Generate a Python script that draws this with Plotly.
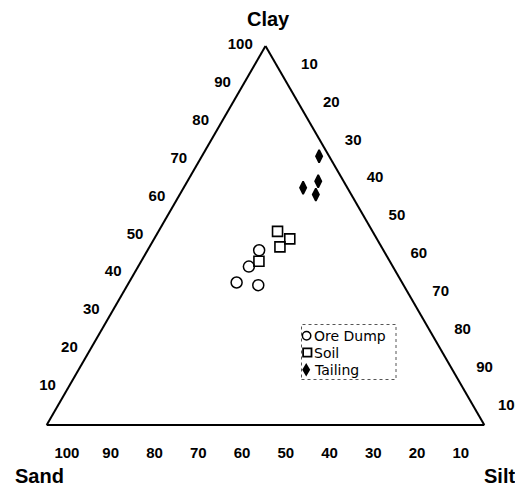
import plotly.graph_objects as go

# ---- data (percent) ----
series_names = ["Ore Dump", "Soil", "Tailing"]

ore_clay = [46.1, 41.8, 37.6, 36.9]
ore_sand = [28.4, 32.9, 37.8, 33.2]
ore_silt = [25.5, 25.3, 24.6, 29.9]

soil_clay = [51.1, 49.1, 47.0, 43.2]
soil_sand = [21.7, 19.9, 23.2, 29.9]
soil_silt = [27.2, 31.0, 29.8, 26.9]

tail_clay = [70.9, 62.6, 64.3, 60.8]
tail_sand = [2.3, 10.1, 5.8, 8.1]
tail_silt = [26.8, 27.3, 29.9, 31.1]

tick_vals = [10, 20, 30, 40, 50, 60, 70, 80, 90, 100]
tick_text = [str(v) for v in tick_vals]

# page body has an 8px margin; the figure is sized to fit the window
OFF = 8
W, H = 515, 480
L, R, T, B = 38, 38, 38, 63
PW, PH = W - L - R, H - T - B


def px2paper(x, y):
    fx, fy = x - OFF, y - OFF
    return (fx - L) / PW, (H - B - fy) / PH


fig = go.Figure()

styles = [
    dict(symbol="circle-open", size=11, color="black", line=dict(width=1.5, color="black")),
    dict(symbol="square-open", size=10, color="black", line=dict(width=1.6, color="black")),
    dict(symbol="diamond-tall", size=9, color="black", line=dict(width=1.7, color="black")),
]
data = [
    (ore_clay, ore_sand, ore_silt),
    (soil_clay, soil_sand, soil_silt),
    (tail_clay, tail_sand, tail_silt),
]
for name, (a, b, c), st in zip(series_names, data, styles):
    fig.add_trace(go.Scatterternary(
        a=a, b=b, c=c, mode="markers", name=name, showlegend=False,
        marker=st, cliponaxis=False,
    ))

tickfont = dict(family="Liberation Sans", size=15, color="black", weight="bold")


def axis(ticklen, texts):
    return dict(
        showgrid=False, showline=True, linecolor="black", linewidth=2,
        tickmode="array", tickvals=tick_vals, ticktext=texts,
        ticks="outside", ticklen=ticklen, tickcolor="rgba(0,0,0,0)",
        tickfont=tickfont, title=dict(text=""),
    )


NB = "\u00a0"
fig.update_layout(
    width=W, height=H,
    margin=dict(l=L, r=R, t=T, b=B),
    paper_bgcolor="white",
    plot_bgcolor="white",
    ternary=dict(
        sum=100,
        bgcolor="white",
        domain=dict(x=[0, 1], y=[0, 1]),
        aaxis=axis(9.5, tick_text),
        baxis=axis(15.5, [NB * 6 + t for t in tick_text]),
        caxis=axis(21, tick_text),
    ),
    showlegend=False,
)

titlefont = dict(family="Liberation Sans", size=20, color="black", weight="bold")
for text, (x, y) in [("Clay", (268, 19)), ("Sand", (39.5, 476)), ("Silt", (499, 476))]:
    px, py = px2paper(x, y)
    fig.add_annotation(text=text, x=px, y=py, xref="paper", yref="paper",
                       showarrow=False, xanchor="center", yanchor="middle", font=titlefont)

# ---- legend (manual, dotted box) ----
x0, y0 = px2paper(301.5, 324.5)
x1, y1 = px2paper(396, 379.5)
fig.add_shape(type="rect", xref="paper", yref="paper", x0=x0, y0=y1, x1=x1, y1=y0,
              line=dict(color="#555555", width=1, dash="dot"), fillcolor="rgba(0,0,0,0)")

legend_rows_y = [335.8, 352.5, 369.8]
legend_sym_x = [306.6, 307.3, 306.2]
legfont = dict(family="DejaVu Sans", size=14, color="black")
for name, yy, sx, st in zip(series_names, legend_rows_y, legend_sym_x, styles):
    cx, cy = px2paper(sx, yy)
    rx, ry = 4.2 / PW, 4.2 / PH
    if st["symbol"].startswith("circle"):
        fig.add_shape(type="circle", xref="paper", yref="paper",
                      x0=cx - rx, x1=cx + rx, y0=cy - ry, y1=cy + ry,
                      line=dict(color="black", width=1.5))
    elif st["symbol"].startswith("square"):
        fig.add_shape(type="rect", xref="paper", yref="paper",
                      x0=cx - rx, x1=cx + rx, y0=cy - ry, y1=cy + ry,
                      line=dict(color="black", width=1.8))
    else:
        dx, dy = 4.0 / PW, 6.8 / PH
        path = f"M {cx - dx} {cy} L {cx} {cy + dy} L {cx + dx} {cy} L {cx} {cy - dy} Z"
        fig.add_shape(type="path", xref="paper", yref="paper", path=path,
                      fillcolor="black", line=dict(color="black", width=0))
    tx, ty = px2paper(314, yy)
    fig.add_annotation(text=name, x=tx, y=ty, xref="paper", yref="paper",
                       showarrow=False, xanchor="left", yanchor="middle",
                       font=legfont, xshift=-1, borderpad=0)

fig.write_html("out.html")
